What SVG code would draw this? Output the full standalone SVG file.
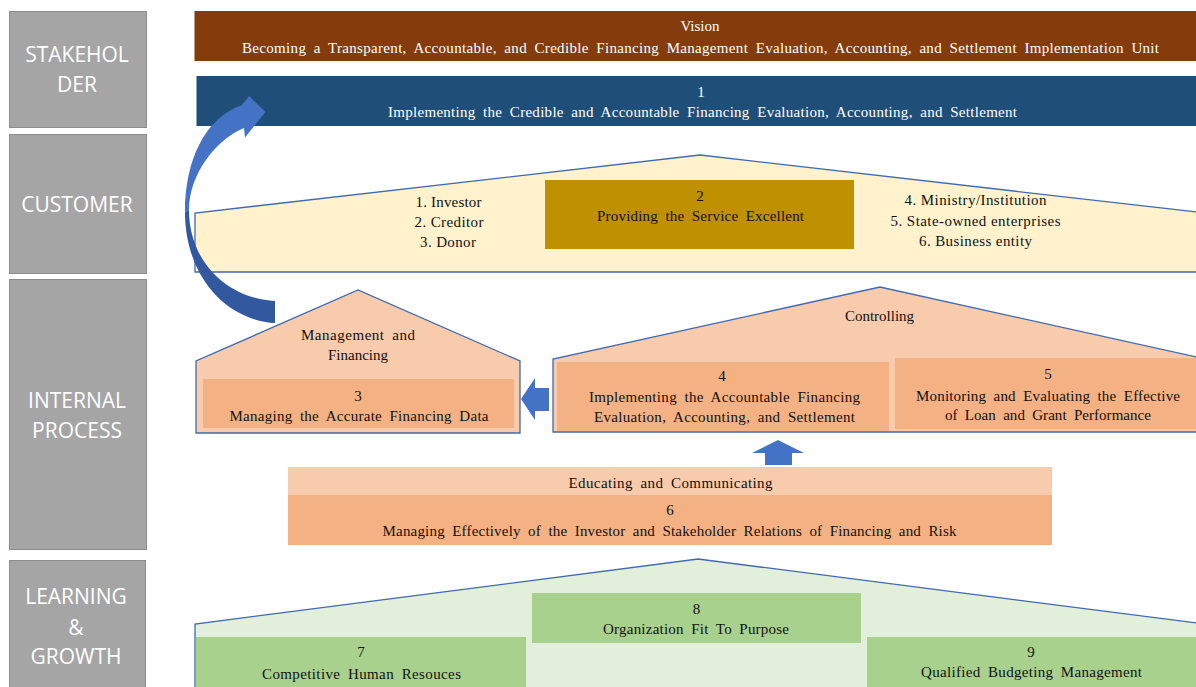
<svg xmlns="http://www.w3.org/2000/svg" width="1196" height="687" viewBox="0 0 1196 687">
<style>
.lb{fill:#a5a5a5;stroke:#8c8c8c;stroke-width:1}
.lt{font-family:"Open Sans","Liberation Sans",sans-serif;font-size:21px;fill:#ffffff;text-anchor:middle}
.t{font-family:"Liberation Serif","Times New Roman",serif;font-size:15px;fill:#111111;text-anchor:middle;word-spacing:3.5px}
.n{word-spacing:0}
.w{fill:#ffffff}
.ol{stroke:#4169b0;stroke-width:1.3}
.peach{fill:#f8cbad}
.orange{fill:#f4b183}
.green{fill:#a9d18e}
.arr{fill:#4472c4}
</style>
<rect x="0" y="0" width="1196" height="687" fill="#ffffff"/>

<g id="label-stakeholder">
<rect class="lb" x="9.5" y="11.5" width="137" height="116"/>
<text class="lt" x="77" y="62">STAKEHOL</text>
<text class="lt" x="77" y="92">DER</text>
</g>
<g id="label-customer">
<rect class="lb" x="9.5" y="134.5" width="137" height="139"/>
<text class="lt" x="77" y="212">CUSTOMER</text>
</g>
<g id="label-internal">
<rect class="lb" x="9.5" y="279.5" width="137" height="270"/>
<text class="lt" x="77" y="408">INTERNAL</text>
<text class="lt" x="77" y="438">PROCESS</text>
</g>
<g id="label-learning">
<rect class="lb" x="9.5" y="560.5" width="136" height="130"/>
<text class="lt" x="76" y="604">LEARNING</text>
<text class="lt" x="76" y="635">&amp;</text>
<text class="lt" x="76" y="664">GROWTH</text>
</g>

<g id="vision">
<rect x="194.5" y="11" width="1010" height="50" fill="#843c0c"/>
<text class="t w" x="700" y="31">Vision</text>
<text class="t w" x="700.5" y="52.5" font-size="16" textLength="917" lengthAdjust="spacing">Becoming a Transparent, Accountable, and Credible Financing Management Evaluation, Accounting, and Settlement Implementation Unit</text>
</g>

<g id="objective-1">
<rect x="196.5" y="76" width="1010" height="50" fill="#1f4e79"/>
<text class="t w" x="701" y="97">1</text>
<text class="t w" x="702.5" y="117" font-size="16" textLength="629" lengthAdjust="spacing">Implementing the Credible and Accountable Financing Evaluation, Accounting, and Settlement</text>
</g>

<g id="customer">
<polygon class="ol" points="195,272 195,213 700,155 1212,213.8 1212,272" fill="#fff2cc"/>
<text class="t n" x="448.5" y="207" textLength="66" lengthAdjust="spacing">1. Investor</text>
<text class="t n" x="449" y="227" textLength="69" lengthAdjust="spacing">2. Creditor</text>
<text class="t n" x="448" y="247" textLength="56" lengthAdjust="spacing">3. Donor</text>
<text class="t n" x="975.5" y="205" textLength="142" lengthAdjust="spacing">4. Ministry/Institution</text>
<text class="t n" x="975.5" y="225.5" textLength="170" lengthAdjust="spacing">5. State-owned enterprises</text>
<text class="t n" x="975.5" y="245.5" textLength="113" lengthAdjust="spacing">6. Business entity</text>
</g>

<g id="objective-2">
<rect x="545" y="180" width="309" height="69" fill="#bf9000"/>
<text class="t" x="700" y="201">2</text>
<text class="t" x="700.5" y="221" textLength="207" lengthAdjust="spacing">Providing the Service Excellent</text>
</g>

<g id="management-financing">
<polygon class="ol peach" points="196,433 196,361 358,290 520,361 520,433"/>
<text class="t" x="358" y="339.5" textLength="114" lengthAdjust="spacing">Management and</text>
<text class="t" x="358" y="360">Financing</text>
</g>
<g id="objective-3">
<rect class="orange" x="203" y="379" width="311" height="49"/>
<text class="t" x="358" y="401">3</text>
<text class="t" x="359" y="421" textLength="259" lengthAdjust="spacing">Managing the Accurate Financing Data</text>
</g>

<g id="controlling">
<polygon class="ol peach" points="553,432 553,359 880,287 1212,360.5 1212,432"/>
<text class="t" x="879.5" y="321">Controlling</text>
</g>
<g id="objective-4">
<rect class="orange" x="557" y="362" width="332" height="69"/>
<text class="t" x="722" y="381">4</text>
<text class="t" x="724.5" y="402" textLength="271" lengthAdjust="spacing">Implementing the Accountable Financing</text>
<text class="t" x="724.5" y="422" textLength="261" lengthAdjust="spacing">Evaluation, Accounting, and Settlement</text>
</g>
<g id="objective-5">
<rect class="orange" x="895" y="358" width="320" height="71"/>
<text class="t" x="1048" y="379">5</text>
<text class="t" x="1048" y="400.5" textLength="264" lengthAdjust="spacing">Monitoring and Evaluating the Effective</text>
<text class="t" x="1048" y="419.5" textLength="206" lengthAdjust="spacing">of Loan and Grant Performance</text>
</g>

<g id="objective-6">
<rect class="peach" x="288" y="467" width="764" height="28"/>
<rect class="orange" x="288" y="495" width="764" height="50"/>
<text class="t" x="670.5" y="488" textLength="204" lengthAdjust="spacing">Educating and Communicating</text>
<text class="t" x="670" y="515">6</text>
<text class="t" x="669.5" y="536" textLength="574" lengthAdjust="spacing">Managing Effectively of the Investor and Stakeholder Relations of Financing and Risk</text>
</g>

<g id="learning-growth">
<polygon class="ol" points="195,700 195,624 698,559 1212,625 1212,700" fill="#e2efda"/>
</g>
<g id="objective-7">
<rect class="green" x="196" y="637" width="330" height="55"/>
<text class="t" x="361" y="657">7</text>
<text class="t" x="361.5" y="679" textLength="199" lengthAdjust="spacing">Competitive Human Resouces</text>
</g>
<g id="objective-8">
<rect class="green" x="532" y="593" width="329" height="50"/>
<text class="t" x="696.5" y="614">8</text>
<text class="t" x="696" y="634" textLength="186" lengthAdjust="spacing">Organization Fit To Purpose</text>
</g>
<g id="objective-9">
<rect class="green" x="867" y="637" width="345" height="55"/>
<text class="t" x="1031" y="657">9</text>
<text class="t" x="1031.5" y="677" textLength="221" lengthAdjust="spacing">Qualified Budgeting Management</text>
</g>

<g id="connectors">
<path d="M185,212 C185,160 205,118 242,105 L249,96 L265.5,112 L245,137.5 L244,128 C215,140 189,175 189,210 Z" fill="#4472c4"/>
<path d="M185,212 L189,210 C189,260 225,298 275,301 L275,323 C225,320 185,275 185,212 Z" fill="#3259a0"/>
<polygon class="arr" points="521,399 535,378 535,388 549,388 549,411 535,411 535,420"/>
<polygon class="arr" points="778,440 804,453 792,453 792,465 765,465 765,453 752,453"/>
</g>
</svg>
